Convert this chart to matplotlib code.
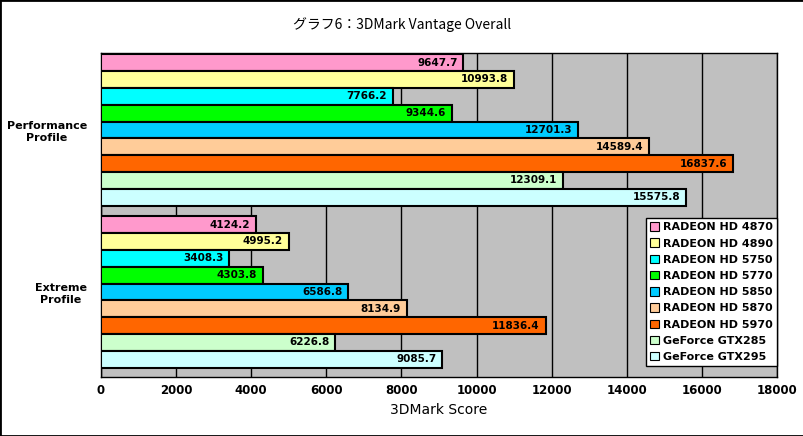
import numpy as np
import matplotlib.pyplot as plt
from matplotlib.patches import Patch

plt.rcParams['font.family'] = ['DejaVu Sans', 'Noto Sans CJK JP']

categories = ['Performance\nProfile', 'Extreme\nProfile']
cards = ['RADEON HD 4870', 'RADEON HD 4890', 'RADEON HD 5750', 'RADEON HD 5770',
         'RADEON HD 5850', 'RADEON HD 5870', 'RADEON HD 5970', 'GeForce GTX285',
         'GeForce GTX295']
performance = [9647.7, 10993.8, 7766.2, 9344.6, 12701.3, 14589.4, 16837.6, 12309.1, 15575.8]
extreme = [4124.2, 4995.2, 3408.3, 4303.8, 6586.8, 8134.9, 11836.4, 6226.8, 9085.7]
colors = ['#FF99CC', '#FFFF99', '#00FFFF', '#00FF00', '#00CCFF',
          '#FFCC99', '#FF6600', '#CCFFCC', '#CCFFFF']

scores = np.array([performance, extreme])

fig = plt.figure(figsize=(8.04, 4.36), dpi=100)
ax = fig.add_axes([101 / 804, 1 - 377 / 436, 676 / 804, 324 / 436])
ax.set_facecolor('#C0C0C0')

h = 0.104
for i in range(len(categories)):
    for j in range(len(cards)):
        y = i + 0.475 + (j - 4) * h
        v = scores[i, j]
        ax.barh(y, v, height=h, color=colors[j], edgecolor='black', linewidth=1.5, zorder=3)
        ax.text(v - 150, y, f'{v:.1f}', ha='right', va='center', fontsize=7.5,
                fontweight='bold', zorder=4)

ax.set_xlim(0, 18000)
ax.set_ylim(2, 0)
ax.set_xticks(np.arange(0, 18001, 2000))
ax.grid(axis='x', color='black', linewidth=1, zorder=1)
ax.tick_params(axis='x', length=0, pad=5, labelsize=8.5)
for t in ax.get_xticklabels():
    t.set_fontweight('bold')

ax.set_yticks([1], minor=True)
ax.tick_params(axis='y', which='minor', direction='in', length=4)
ax.set_yticks([0.475, 1.475])
ax.set_yticklabels(categories, fontsize=8, fontweight='bold', multialignment='center')
ax.tick_params(axis='y', which='major', length=0, pad=10)

for s in ax.spines.values():
    s.set_color('black')
    s.set_linewidth(1)

ax.set_xlabel('3DMark Score', fontsize=10, labelpad=4)

handles = [Patch(facecolor=c, edgecolor='black', linewidth=0.8) for c in colors]
leg = ax.legend(handles, cards, loc='lower right', bbox_to_anchor=(1.0, 0.034),
                prop={'weight': 'bold', 'size': 8}, frameon=True,
                fancybox=False, edgecolor='black', facecolor='white', framealpha=1,
                handlelength=0.8, handleheight=0.8, handletextpad=0.4,
                labelspacing=0.55, borderpad=0.35, borderaxespad=0)
leg.get_frame().set_linewidth(1)
leg.set_zorder(5)

fig.text(0.5, 1 - 25 / 436, 'グラフ6：3DMark Vantage Overall', ha='center', va='center',
         fontsize=10, family=['Noto Sans CJK JP', 'DejaVu Sans'])

fig.patches.append(plt.Rectangle((0, 0), 1, 1, transform=fig.transFigure, fill=False,
                                 edgecolor='black', linewidth=2))

fig.savefig('out.png', dpi=100)
